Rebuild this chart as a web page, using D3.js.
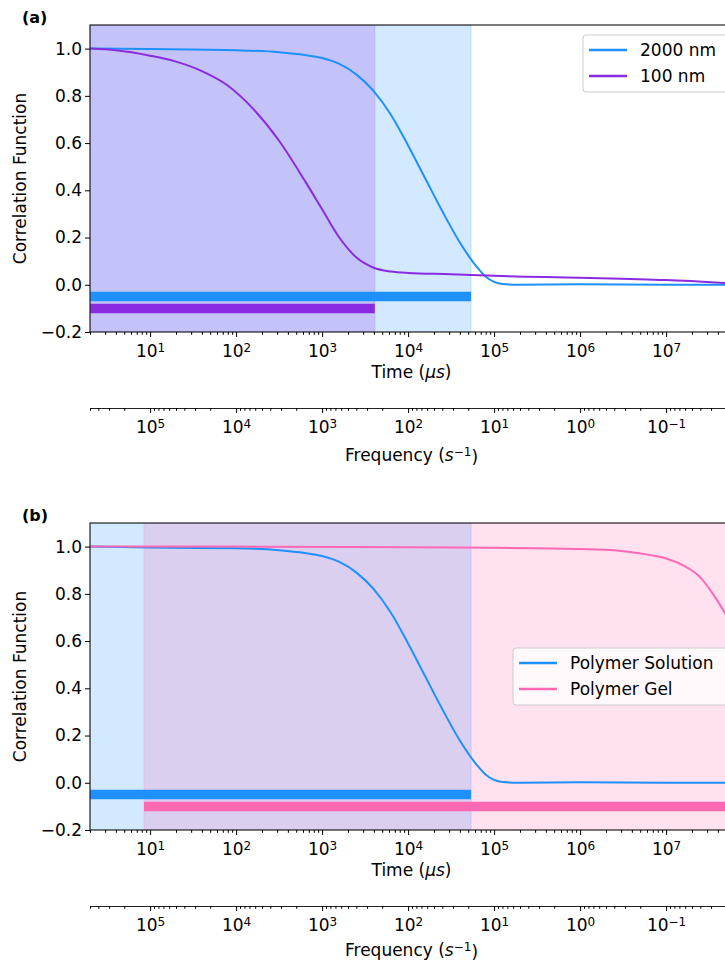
<!DOCTYPE html>
<html>
<head>
<meta charset="utf-8">
<script src="https://cdn.jsdelivr.net/npm/d3@7"></script>
<style>
  body { margin: 0; background: #fff; }
  text { font-family: "DejaVu Sans", sans-serif; }
</style>
</head>
<body>
<div id="chart"></div>
<script>
// time in microseconds, correlation values
const timeA_2000 = [2, 10, 100, 316, 631, 1000, 1585, 2512, 3981, 6310, 10000, 15849, 25119, 39811, 63096, 79433, 100000, 125893, 200000, 1e6, 1e7, 6e7];
const corrA_2000 = [1.0, 0.998, 0.993, 0.985, 0.973, 0.96, 0.935, 0.89, 0.82, 0.72, 0.59, 0.45, 0.31, 0.18, 0.075, 0.035, 0.012, 0.003, 0.0, 0.002, 0.0, 0.0];

const timeA_100 = [2, 4, 10, 20, 40, 79, 158, 316, 631, 1000, 1585, 2512, 3981, 6310, 10000, 31623, 100000, 1e6, 1e7, 6e7];
const corrA_100 = [1.0, 0.993, 0.97, 0.945, 0.905, 0.845, 0.745, 0.61, 0.44, 0.32, 0.20, 0.115, 0.072, 0.056, 0.05, 0.045, 0.038, 0.03, 0.02, 0.006];

const timeB_sol = [2, 10, 100, 316, 631, 1000, 1585, 2512, 3981, 6310, 10000, 15849, 25119, 39811, 63096, 79433, 100000, 125893, 200000, 1e6, 1e7, 6e7];
const corrB_sol = [1.0, 0.996, 0.993, 0.985, 0.973, 0.96, 0.935, 0.89, 0.82, 0.72, 0.59, 0.45, 0.31, 0.18, 0.075, 0.035, 0.012, 0.003, 0.0, 0.002, 0.0, 0.0];

const timeB_gel = [2, 100, 10000, 100000, 1e6, 2.5e6, 6.3e6, 1e7, 1.6e7, 2.5e7, 3.5e7, 6e7];
const corrB_gel = [1.0, 1.0, 0.997, 0.995, 0.99, 0.985, 0.965, 0.95, 0.92, 0.87, 0.80, 0.66];

// shaded spans [start, end] in µs and horizontal bars [start, end, level]
const spansA = [[2, 54000, "#1e90ff"], [2, 4100, "#8a2be2"]];
const barsA = [[2, 54000, -0.05, "#1e90ff"], [2, 4100, -0.1, "#8a2be2"]];
const spansB = [[2, 54000, "#1e90ff"], [8.5, 6e7, "#ff69b4"]];
const barsB = [[2, 54000, -0.05, "#1e90ff"], [8.5, 6e7, -0.1, "#ff69b4"]];

const yTicks = [-0.2, 0.0, 0.2, 0.4, 0.6, 0.8, 1.0];

const width = 725, height = 963;
const left = 90, right = 733;
const plotH = 307;
const fs = "17px", sup = "12px";

const svg = d3.select("#chart").append("svg")
  .attr("width", width).attr("height", height);

const x = d3.scaleLog().domain([2, 6e7]).range([left, right]);
const freq = d3.scaleLog().domain([1e6 / 2, 1e6 / 6e7]).range([left, right]);

const isMajor = d => Math.abs(Math.log10(d) - Math.round(Math.log10(d))) < 1e-9;

// replace tick text by 10 with a superscript exponent
function powerLabels(g) {
  g.selectAll(".tick text").each(function(d) {
    const t = d3.select(this).text("");
    if (!isMajor(d)) return;
    const e = Math.round(Math.log10(d));
    t.append("tspan").text("10");
    t.append("tspan").attr("dy", "-0.45em").attr("font-size", sup)
      .text(e < 0 ? "\u2212" + (-e) : e);
  });
  g.selectAll(".tick line").attr("y2", d => isMajor(d) ? 5 : 2.8);
  g.selectAll(".tick text").attr("font-size", fs).attr("fill", "#000").attr("dy", "0.94em");
}

function panel(top, label, spans, bars, series, legend) {
  const y = d3.scaleLinear().domain([-0.2, 1.1]).range([top + plotH, top]);
  const clipId = "clip" + label.replace(/\W/g, "");
  svg.append("clipPath").attr("id", clipId).append("rect")
    .attr("x", left).attr("y", top).attr("width", right - left).attr("height", plotH);

  const plot = svg.append("g").attr("clip-path", `url(#${clipId})`);

  plot.selectAll(".span").data(spans).enter().append("rect")
    .attr("x", d => x(d[0])).attr("y", top)
    .attr("width", d => x(d[1]) - x(d[0])).attr("height", plotH)
    .attr("fill", d => d[2]).attr("fill-opacity", 0.2)
    .attr("stroke", d => d[2]).attr("stroke-opacity", 0.2);

  plot.selectAll(".bar").data(bars).enter().append("line")
    .attr("x1", d => x(d[0])).attr("x2", d => x(d[1]))
    .attr("y1", d => y(d[2])).attr("y2", d => y(d[2]))
    .attr("stroke", d => d[3]).attr("stroke-width", 9.5);

  const line = d3.line().x(d => x(d[0])).y(d => y(d[1])).curve(d3.curveMonotoneX);
  series.forEach(s => {
    plot.append("path").datum(d3.zip(s.t, s.v))
      .attr("d", line).attr("fill", "none")
      .attr("stroke", s.color).attr("stroke-width", 2);
  });

  // frame
  svg.append("rect").attr("x", left).attr("y", top)
    .attr("width", right - left).attr("height", plotH)
    .attr("fill", "none").attr("stroke", "#222").attr("stroke-width", 1.2);

  const yAxis = svg.append("g").attr("transform", `translate(${left},0)`)
    .call(d3.axisLeft(y).tickValues(yTicks).tickFormat(d3.format(".1f")).tickSize(5).tickSizeOuter(0));
  yAxis.select(".domain").remove();
  yAxis.selectAll("text").attr("font-size", fs).attr("fill", "#000");

  const xAxis = svg.append("g").attr("transform", `translate(0,${top + plotH})`)
    .call(d3.axisBottom(x).tickValues(x.ticks()).tickSizeOuter(0))
    .call(powerLabels);
  xAxis.select(".domain").remove();

  const fAxis = svg.append("g").attr("transform", `translate(0,${top + plotH + 76})`)
    .call(d3.axisBottom(freq).tickValues(freq.ticks()).tickSizeOuter(0))
    .call(powerLabels);
  fAxis.select(".domain").attr("stroke", "#222").attr("stroke-width", 1.2);

  const mid = (left + right) / 2;
  const tl = svg.append("text").attr("x", mid).attr("y", top + plotH + 46)
    .attr("text-anchor", "middle").attr("font-size", fs);
  tl.append("tspan").text("Time (");
  tl.append("tspan").attr("font-style", "italic").text("\u03bcs");
  tl.append("tspan").text(")");

  const fl = svg.append("text").attr("x", mid).attr("y", Math.min(top + plotH + 129, height - 7))
    .attr("text-anchor", "middle").attr("font-size", fs);
  fl.append("tspan").text("Frequency (");
  fl.append("tspan").attr("font-style", "italic").text("s");
  fl.append("tspan").attr("dy", "-0.45em").attr("font-size", sup).text("\u22121");
  fl.append("tspan").attr("dy", "0.45em").text(")");

  svg.append("text")
    .attr("transform", `translate(26,${top + plotH / 2}) rotate(-90)`)
    .attr("text-anchor", "middle").attr("font-size", fs)
    .text("Correlation Function");

  svg.append("text").attr("x", 22).attr("y", top - 2)
    .attr("font-size", "16px").attr("font-weight", "bold").text(label);

  const lg = svg.append("g").attr("transform", `translate(${legend.x},${legend.y})`);
  lg.append("rect").attr("width", legend.w).attr("height", 57).attr("rx", 3)
    .attr("fill", "#fff").attr("fill-opacity", 0.8)
    .attr("stroke", "#ccc").attr("stroke-width", 1);
  series.forEach((s, i) => {
    lg.append("line").attr("x1", 6).attr("x2", 44)
      .attr("y1", 15 + i * 26).attr("y2", 15 + i * 26)
      .attr("stroke", s.color).attr("stroke-width", 2.5);
    lg.append("text").attr("x", 57).attr("y", 21 + i * 26)
      .attr("font-size", fs).attr("fill", "#000").text(s.name);
  });
}

panel(25, "(a)", spansA, barsA, [
  { name: "2000 nm", t: timeA_2000, v: corrA_2000, color: "#1e90ff" },
  { name: "100 nm", t: timeA_100, v: corrA_100, color: "#8a2be2" }
], { x: 583, y: 35, w: 160 });

panel(523, "(b)", spansB, barsB, [
  { name: "Polymer Solution", t: timeB_sol, v: corrB_sol, color: "#1e90ff" },
  { name: "Polymer Gel", t: timeB_gel, v: corrB_gel, color: "#ff69b4" }
], { x: 513, y: 648, w: 230 });
</script>
</body>
</html>
